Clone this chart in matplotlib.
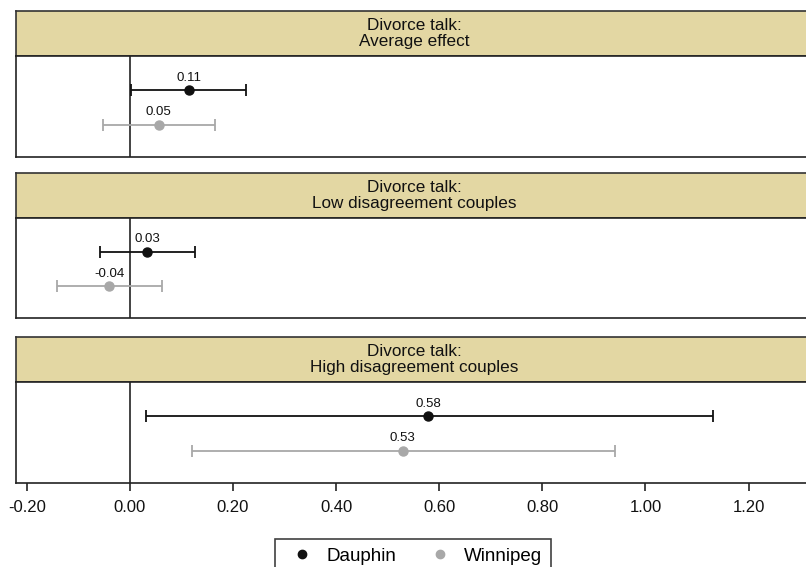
import matplotlib
matplotlib.use('Agg')
import numpy as np
from matplotlib import pyplot as plt
from matplotlib.lines import Line2D

plt.rcParams['font.family'] = ['Liberation Sans', 'DejaVu Sans']

# data
panels = ['Divorce talk:\nAverage effect',
          'Divorce talk:\nLow disagreement couples',
          'Divorce talk:\nHigh disagreement couples']
dauphin_est = [0.11, 0.03, 0.58]
dauphin_pos = [0.114, 0.034, 0.579]
dauphin_lo = [0.002, -0.059, 0.032]
dauphin_hi = [0.225, 0.126, 1.130]
winnipeg_est = [0.05, -0.04, 0.53]
winnipeg_pos = [0.056, -0.040, 0.529]
winnipeg_lo = [-0.052, -0.141, 0.120]
winnipeg_hi = [0.165, 0.063, 0.940]
xticks = [-0.2, 0.0, 0.2, 0.4, 0.6, 0.8, 1.0, 1.2]

W, H = 806, 567
fig = plt.figure(figsize=(W / 100, H / 100), dpi=100)

# pixel layout: (header top, header bottom, body bottom)
rows = [(11, 56, 157), (173, 218, 318), (337, 382, 483)]
left, right = 16, 812
xlim = (-0.221, 1.323)
header_color = '#E3D7A3'
c_d = '#111111'
c_w = '#A8A8A8'

for i, (top, mid, bot) in enumerate(rows):
    hax = fig.add_axes([left / W, 1 - mid / H, (right - left) / W, (mid - top) / H])
    hax.set_facecolor(header_color)
    hax.set_xticks([])
    hax.set_yticks([])
    for s in hax.spines.values():
        s.set_color('#333333')
        s.set_linewidth(1.2)
    hax.text(0.5, 0.5, panels[i], ha='center', va='center', fontsize=12.3,
             linespacing=1.05, color='#111111', transform=hax.transAxes)

    ax = fig.add_axes([left / W, 1 - bot / H, (right - left) / W, (bot - mid) / H])
    ax.set_xlim(*xlim)
    ax.set_ylim(0, 3)
    ax.set_yticks([])
    for s in ax.spines.values():
        s.set_color('#222222')
        s.set_linewidth(1.2)
    ax.axvline(0, color='#111111', lw=1.1, zorder=1)

    for pos, est, lo, hi, y, col in [
            (dauphin_pos[i], dauphin_est[i], dauphin_lo[i], dauphin_hi[i], 1.98, c_d),
            (winnipeg_pos[i], winnipeg_est[i], winnipeg_lo[i], winnipeg_hi[i], 0.95, c_w)]:
        ax.errorbar([pos], [y], xerr=[[pos - lo], [hi - pos]], fmt='o', color=col,
                    ecolor=col, elinewidth=1.3, capsize=4, capthick=1.3,
                    markersize=6.5, zorder=3)
        ax.text(pos, y + 0.2, '%.2f' % est, ha='center', va='bottom',
                fontsize=9.5, color='#111111')

    if i < 2:
        ax.set_xticks([])
    else:
        ax.set_xticks(xticks)
        ax.set_xticklabels(['%.2f' % t for t in xticks], fontsize=12)
        ax.tick_params(axis='x', direction='out', length=6, width=1.1, pad=6,
                       colors='#111111')

handles = [Line2D([], [], marker='o', ls='none', color=c_d, markersize=6),
           Line2D([], [], marker='o', ls='none', color=c_w, markersize=6)]
leg = fig.legend(handles, ['Dauphin', 'Winnipeg'], loc='upper center',
                 bbox_to_anchor=(413 / W, 1 - 530 / H), ncol=2, fontsize=13.5,
                 frameon=True, fancybox=False, handletextpad=0.3,
                 columnspacing=1.3, borderpad=0.45)
leg.get_frame().set_edgecolor('#111111')
leg.get_frame().set_linewidth(1.2)

fig.savefig('out.png', dpi=100)
